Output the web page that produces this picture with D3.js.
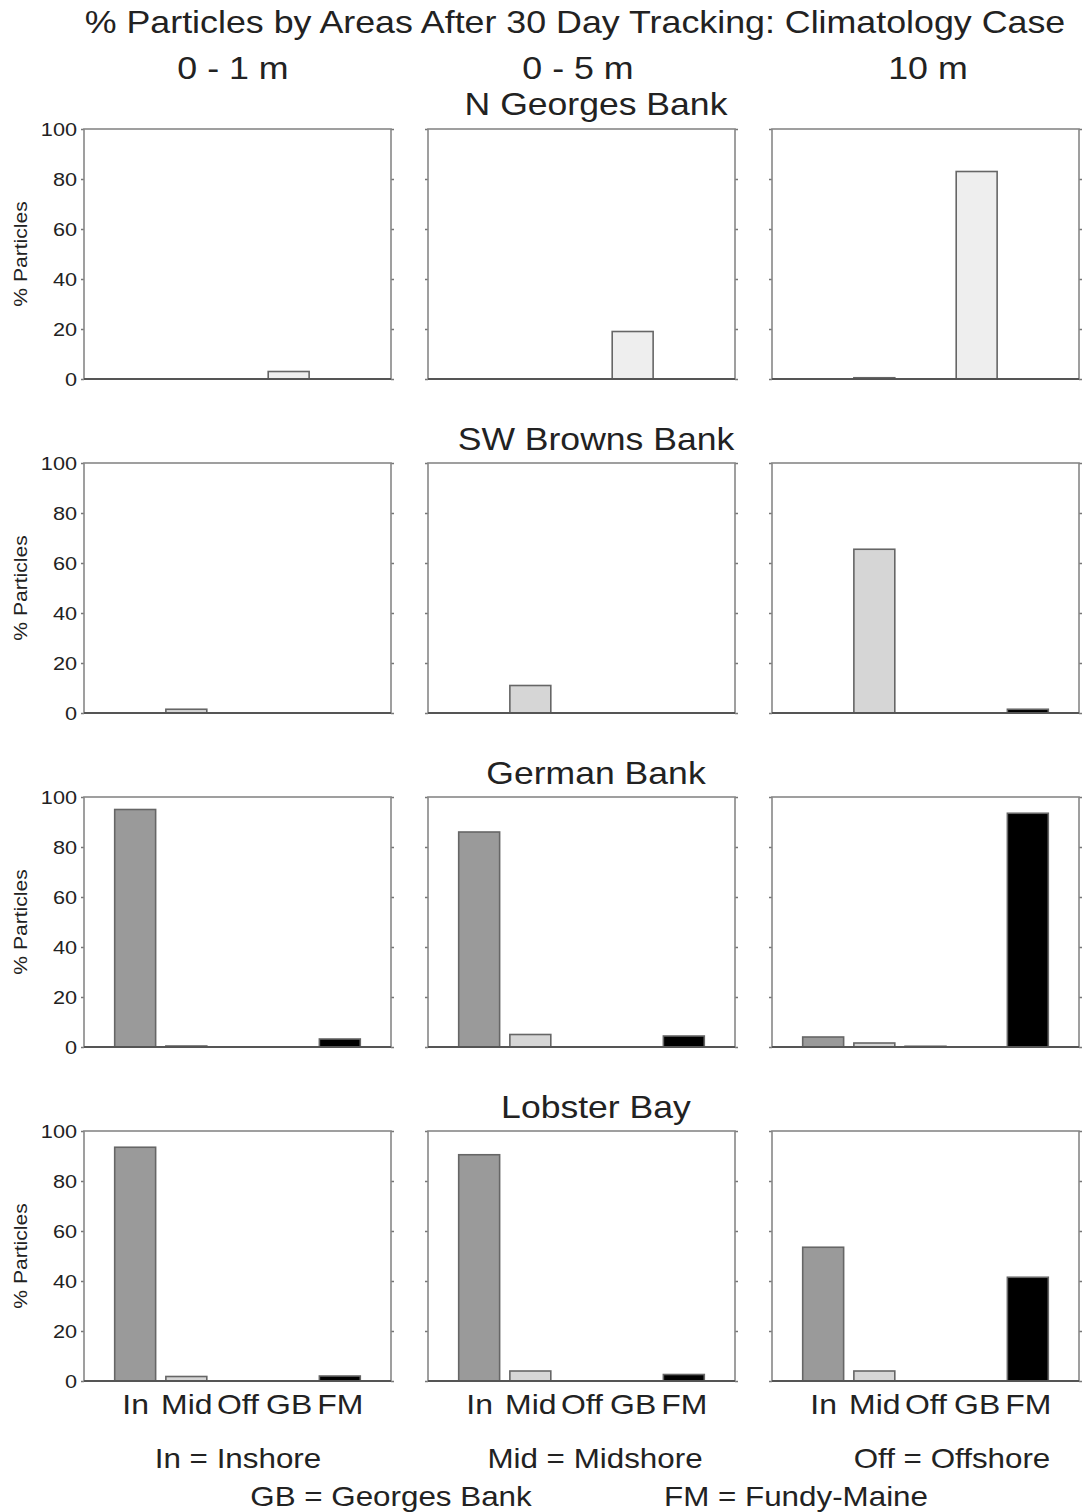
<!DOCTYPE html>
<html><head><meta charset="utf-8">
<script src="https://cdn.jsdelivr.net/npm/d3@7"></script>
<style>body{margin:0;background:#fff}svg{display:block}text{font-family:"Liberation Sans",Arial,sans-serif;fill:#222}</style>
</head><body><svg id="c" width="1083" height="1512"></svg>
<script>
const categories = ["In","Mid","Off","GB","FM"];
const depths = ["0 - 1 m","0 - 5 m","10 m"];
const sites = ["N Georges Bank","SW Browns Bank","German Bank","Lobster Bay"];
const yTicks = [0,20,40,60,80,100];
// values[site][depth] = [In, Mid, Off, GB, FM]
const nGeorges = [[0,0,0,3,0],[0,0,0,19,0],[0,0.5,0,83,0]];
const swBrowns = [[0,1.5,0,0,0],[0,11,0,0,0],[0,65.5,0,0,1.5]];
const german   = [[95,0.4,0,0,3.2],[86,5,0,0,4.4],[4,1.6,0.3,0,93.5]];
const lobster  = [[93.5,1.8,0,0,2],[90.5,4,0,0,2.6],[53.5,4,0,0,41.5]];
const barColors = ["#9a9a9a","#d6d6d6","#7a7a7a","#eeeeee","#000000"];
const legend1 = ["In = Inshore","Mid = Midshore","Off = Offshore"];
const legend2 = ["GB = Georges Bank","FM = Fundy-Maine"];
const allData = [nGeorges, swBrowns, german, lobster];

const svg = d3.select("#c");
const colX = [84, 428, 772], pw = 307, ph = 250;
const rowY = [129, 463, 797, 1131];
const FONT = "Liberation Sans, Arial, sans-serif";

function T(x,y,s,size){
  return svg.append("text").attr("x",x).attr("y",y).attr("text-anchor","middle").attr("font-size",size).attr("class","st").text(s);
}
T(575,33,"% Particles by Areas After 30 Day Tracking: Climatology Case",31.4);
const depthCx = [233, 578, 928];
depths.forEach((d,i)=>T(depthCx[i],79,d,31.4));
const titleY = [115, 450, 784, 1118];
sites.forEach((s,r)=>T(596,titleY[r],s,31.2));

allData.forEach((siteData,r)=>{
  siteData.forEach((vals,c)=>{
    const g = svg.append("g").attr("transform",`translate(${colX[c]},${rowY[r]})`);
    const x = d3.scaleLinear().domain([0,6]).range([0,pw]);
    const y = d3.scaleLinear().domain([0,100]).range([ph,0]);
    const bw = 0.8*(x(1)-x(0));
    const la = g.append("g").call(d3.axisLeft(y).tickValues(yTicks).tickSize(3).tickPadding(4).tickFormat(c===0?d3.format("d"):""));
    la.select(".domain").remove();
    la.selectAll("line").attr("stroke","#777").attr("stroke-width",1.5);
    la.selectAll("text").attr("font-size",19).style("font-family",FONT).attr("fill","#222").attr("dy","0.36em").attr("class","st");
    const ra = g.append("g").attr("transform",`translate(${pw},0)`).call(d3.axisRight(y).tickValues(yTicks).tickSize(3).tickFormat(""));
    ra.select(".domain").remove();
    ra.selectAll("line").attr("stroke","#777").attr("stroke-width",1.5);
    g.append("rect").attr("x",0).attr("y",0).attr("width",pw).attr("height",ph)
      .attr("fill","none").attr("stroke","#888").attr("stroke-width",1.6);
    g.selectAll("rect.bar").data(vals.map((v,i)=>({v,i})).filter(d=>d.v>0)).join("rect").attr("class","bar")
      .attr("x",d=>x(d.i+1)-bw/2).attr("width",bw)
      .attr("y",d=>y(d.v)).attr("height",d=>ph-y(d.v))
      .attr("fill",d=>barColors[d.i]).attr("stroke","#666").attr("stroke-width",1.6);
    g.append("line").attr("x1",0).attr("x2",pw).attr("y1",ph).attr("y2",ph).attr("stroke","#555").attr("stroke-width",1.8);
    if(c===0){
      g.append("text").attr("transform",`translate(-57,${ph/2}) rotate(-90)`).attr("text-anchor","middle")
        .attr("font-size",18.5).attr("class","st").text("% Particles");
    }
    if(r===3){
      const xa = g.append("g").attr("transform",`translate(0,${ph})`).call(d3.axisBottom(x).tickValues([1,2,3,4,5]).tickSize(0).tickPadding(13).tickFormat(d=>categories[d-1]));
      xa.select(".domain").remove();
      xa.selectAll("text").attr("font-size",28).style("font-family",FONT).attr("fill","#222").attr("class","st");
    }
  });
});
const l1x = [238, 595, 952];
legend1.forEach((t,i)=>T(l1x[i],1468,t,27.5));
const l2x = [391, 796];
legend2.forEach((t,i)=>T(l2x[i],1506,t,27.5));

// horizontal stretch of glyphs to match reference typeface width
svg.selectAll("text.st").each(function(){
  const len = this.getComputedTextLength();
  if(len>0) d3.select(this).attr("textLength",len*1.14).attr("lengthAdjust","spacingAndGlyphs");
});
</script></body></html>
